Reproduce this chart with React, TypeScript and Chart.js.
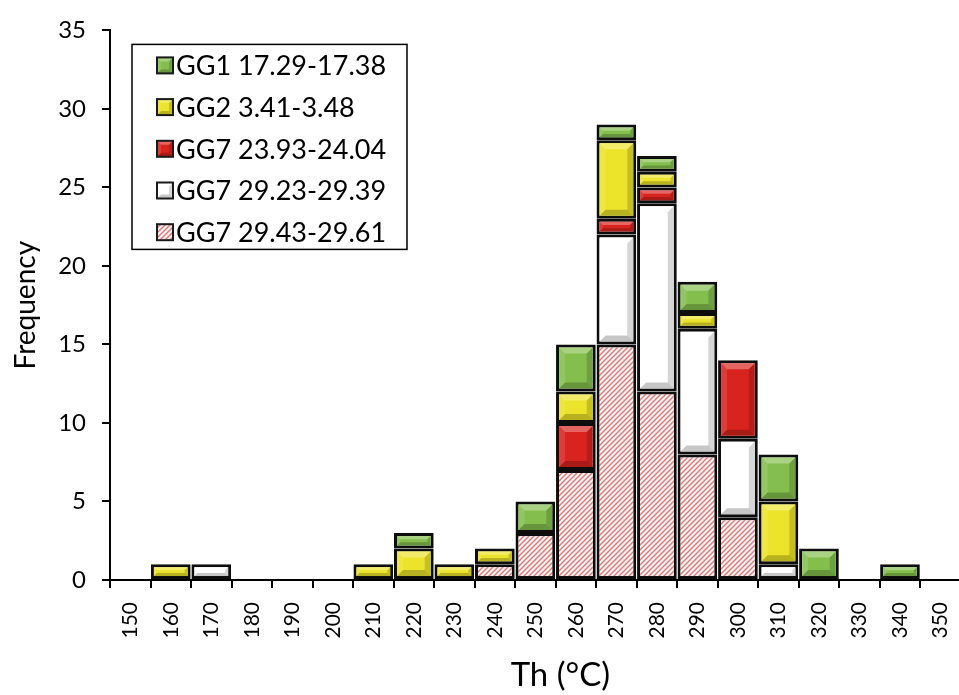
import React, { useEffect, useRef } from 'react';
import { Chart, registerables } from 'chart.js';

Chart.register(...registerables);

// ---- data ----
const categories = ['150', '160', '170', '180', '190', '200', '210', '220', '230', '240', '250', '260', '270', '280', '290', '300', '310', '320', '330', '340', '350'];
// stacked from bottom to top
const gg7Hatched = [0, 0, 0, 0, 0, 0, 0, 0, 0, 1, 3, 7, 15, 12, 8, 4, 0, 0, 0, 0, 0]; // GG7 29.43-29.61
const gg7White = [0, 0, 1, 0, 0, 0, 0, 0, 0, 0, 0, 0, 7, 12, 8, 5, 1, 0, 0, 0, 0]; // GG7 29.23-29.39
const gg7Red = [0, 0, 0, 0, 0, 0, 0, 0, 0, 0, 0, 3, 1, 1, 0, 5, 0, 0, 0, 0, 0]; // GG7 23.93-24.04
const gg2Yellow = [0, 1, 0, 0, 0, 0, 1, 2, 1, 1, 0, 2, 5, 1, 1, 0, 4, 0, 0, 0, 0]; // GG2 3.41-3.48
const gg1Green = [0, 0, 0, 0, 0, 0, 0, 1, 0, 0, 2, 3, 1, 1, 2, 0, 3, 2, 0, 1, 0]; // GG1 17.29-17.38
const seriesLabels = ['GG7 29.43-29.61', 'GG7 29.23-29.39', 'GG7 23.93-24.04', 'GG2 3.41-3.48', 'GG1 17.29-17.38'];
const yMin = 0;
const yMax = 35;
const yStep = 5;
const xTitle = 'Th (°C)';
const yTitle = 'Frequency';

const FONT = "Lato, 'Open Sans', sans-serif";

function makeHatch(): CanvasPattern | string {
  const c = document.createElement('canvas');
  c.width = 5;
  c.height = 5;
  const g = c.getContext('2d');
  if (!g) return '#f0c8c8';
  g.fillStyle = '#fcf2f2';
  g.fillRect(0, 0, 5, 5);
  g.strokeStyle = '#d77a78';
  g.lineWidth = 1.4;
  g.beginPath();
  g.moveTo(-1, 6); g.lineTo(6, -1);
  g.moveTo(-1, 1); g.lineTo(1, -1);
  g.moveTo(4, 6); g.lineTo(6, 4);
  g.stroke();
  return g.createPattern(c, 'repeat') || '#f0c8c8';
}

function drawBevel(ctx: CanvasRenderingContext2D, l: number, t: number, r: number, btm: number) {
  const h = btm - t;
  const w = r - l;
  if (h <= 1 || w <= 1) return;
  const b = Math.max(1.5, Math.min(6, h / 3, w / 4));
  ctx.save();
  const poly = (pts: number[][], fill: string) => {
    ctx.beginPath();
    ctx.moveTo(pts[0][0], pts[0][1]);
    for (let i = 1; i < pts.length; i++) ctx.lineTo(pts[i][0], pts[i][1]);
    ctx.closePath();
    ctx.fillStyle = fill;
    ctx.fill();
  };
  poly([[l, t], [r, t], [r - b, t + b], [l + b, t + b]], 'rgba(255,255,255,0.3)');
  poly([[l, btm], [r, btm], [r - b, btm - b], [l + b, btm - b]], 'rgba(0,0,0,0.22)');
  poly([[l, t], [l + b, t + b], [l + b, btm - b], [l, btm]], 'rgba(255,255,255,0.12)');
  poly([[r, t], [r - b, t + b], [r - b, btm - b], [r, btm]], 'rgba(0,0,0,0.16)');
  ctx.restore();
}

const bevelPlugin = {
  id: 'bevelPlugin',
  afterDatasetsDraw(chart: any) {
    const ctx = chart.ctx as CanvasRenderingContext2D;
    chart.data.datasets.forEach((ds: any, di: number) => {
      if (ds.noBevel) return;
      const meta = chart.getDatasetMeta(di);
      meta.data.forEach((el: any, i: number) => {
        const v = ds.data[i];
        if (!v) return;
        const p = el.getProps(['x', 'y', 'base', 'width'], true);
        const bw = 3;
        const l = p.x - p.width / 2 + bw;
        const r = p.x + p.width / 2 - bw;
        const t = Math.min(p.y, p.base) + bw;
        const btm = Math.max(p.y, p.base) - bw;
        drawBevel(ctx, l, t, r, btm);
      });
    });
  },
};

const legendBoxPlugin = {
  id: 'legendBoxPlugin',
  afterDraw(chart: any) {
    const ctx = chart.ctx as CanvasRenderingContext2D;
    const area = chart.chartArea;
    const bx = area.left + 22;
    const by = area.top + 14;
    const bw = 275;
    const bh = 205;
    ctx.save();
    ctx.fillStyle = '#ffffff';
    ctx.fillRect(bx, by, bw, bh);
    ctx.strokeStyle = '#000000';
    ctx.lineWidth = 1.5;
    ctx.strokeRect(bx, by, bw, bh);
    const dss = chart.data.datasets.slice().reverse();
    ctx.font = `27px ${FONT}`;
    ctx.textBaseline = 'middle';
    ctx.textAlign = 'left';
    dss.forEach((ds: any, i: number) => {
      const cy = by + 21 + i * 41.7;
      const mx = bx + 25;
      const ms = 16;
      ctx.fillStyle = ds.backgroundColor;
      ctx.fillRect(mx, cy - ms / 2, ms, ms);
      if (!ds.noBevel) drawBevel(ctx, mx, cy - ms / 2, mx + ms, cy + ms / 2);
      ctx.strokeStyle = '#1a1a1a';
      ctx.lineWidth = 2;
      ctx.strokeRect(mx, cy - ms / 2, ms, ms);
      ctx.fillStyle = '#000000';
      ctx.fillText(ds.label, mx + ms + 3, cy + 1);
    });
    ctx.restore();
  },
};

const xTitlePlugin = {
  id: 'xTitlePlugin',
  afterDraw(chart: any) {
    const ctx = chart.ctx as CanvasRenderingContext2D;
    const area = chart.chartArea;
    ctx.save();
    ctx.font = `33px ${FONT}`;
    ctx.fillStyle = '#000000';
    ctx.textAlign = 'center';
    ctx.textBaseline = 'middle';
    ctx.fillText(xTitle, (area.left + area.right) / 2 + 25, 675);
    ctx.restore();
  },
};

export default function App() {
  const ref = useRef<HTMLCanvasElement>(null);

  useEffect(() => {
    if (!ref.current) return;
    const hatch = makeHatch();
    const toData = (arr: number[]) => arr.map((v) => (v === 0 ? null : v));
    const common = {
      borderColor: '#0d0d0d',
      borderWidth: 3,
      borderSkipped: false,
      barPercentage: 0.98,
      categoryPercentage: 1.0,
    };
    const chart = new Chart(ref.current, {
      type: 'bar',
      data: {
        labels: categories,
        datasets: [
          { label: seriesLabels[0], data: toData(gg7Hatched), backgroundColor: hatch, noBevel: true, ...common } as any,
          { label: seriesLabels[1], data: toData(gg7White), backgroundColor: '#ffffff', ...common } as any,
          { label: seriesLabels[2], data: toData(gg7Red), backgroundColor: '#d8231e', ...common } as any,
          { label: seriesLabels[3], data: toData(gg2Yellow), backgroundColor: '#ece42a', ...common } as any,
          { label: seriesLabels[4], data: toData(gg1Green), backgroundColor: '#84bf4e', ...common } as any,
        ],
      },
      options: {
        responsive: false,
        animation: false,
        layout: { padding: { left: 0, right: 13, top: 18, bottom: 0 } },
        plugins: {
          legend: { display: false },
          tooltip: { enabled: false },
          title: { display: false },
        },
        scales: {
          x: {
            stacked: true,
            offset: true,
            afterFit: (scale: any) => { scale.height = 115; },
            grid: {
              display: true,
              offset: true,
              drawOnChartArea: false,
              drawTicks: true,
              tickLength: 8,
              color: '#000000',
              lineWidth: 2,
            },
            border: { display: true, color: '#000000', width: 2 },
            ticks: {
              autoSkip: false,
              maxRotation: 90,
              minRotation: 90,
              padding: 14,
              color: '#000000',
              font: { family: FONT, size: 21 },
            },
          },
          y: {
            stacked: true,
            min: yMin,
            max: yMax,
            afterFit: (scale: any) => { scale.width = 110; },
            grid: {
              display: true,
              drawOnChartArea: false,
              drawTicks: true,
              tickLength: 8,
              color: '#000000',
              lineWidth: 2,
            },
            border: { display: true, color: '#000000', width: 2 },
            ticks: {
              stepSize: yStep,
              padding: 16,
              color: '#000000',
              font: { family: FONT, size: 24 },
            },
            title: {
              display: true,
              text: yTitle,
              color: '#000000',
              font: { family: FONT, size: 28, weight: 'normal' },
              padding: { top: 9, bottom: 0 },
            },
          },
        },
      } as any,
      plugins: [bevelPlugin, legendBoxPlugin, xTitlePlugin],
    });
    return () => chart.destroy();
  }, []);

  return (
    <div style={{ width: 980, height: 695, position: 'relative', overflow: 'hidden' }}>
      <style>{'html,body{margin:0;padding:0;overflow:hidden;background:#ffffff;}'}</style>
      <canvas ref={ref} width={980} height={695} style={{ display: 'block' }} />
    </div>
  );
}
